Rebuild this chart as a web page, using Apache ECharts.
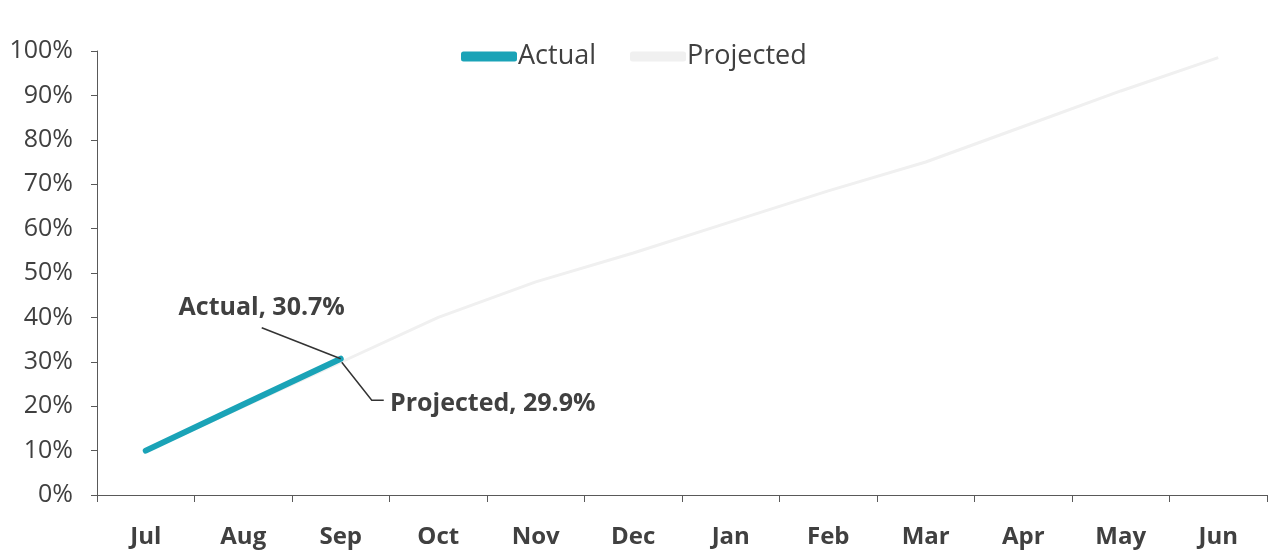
<!DOCTYPE html>
<html>
<head>
<meta charset="utf-8">
<script src="https://cdn.jsdelivr.net/npm/echarts@6/dist/echarts.min.js"></script>
<style>
  html, body { margin: 0; padding: 0; background: #fff; }
  #chart { width: 1272px; height: 554px; }
</style>
</head>
<body>
<div id="chart"></div>
<script>
// months of the fiscal year
const months = ['Jul', 'Aug', 'Sep', 'Oct', 'Nov', 'Dec', 'Jan', 'Feb', 'Mar', 'Apr', 'May', 'Jun']
// cumulative %
const actual = [10.0, 20.4, 30.7, null, null, null, null, null, null, null, null, null]
const projected = [9.8, 19.9, 29.9, 40.0, 48.0, 54.5, 61.5, 68.5, 75.0, 83.0, 91.0, 98.5]
const yTicks = [0, 10, 20, 30, 40, 50, 60, 70, 80, 90, 100]
const labelIdx = 2 // Sep, the last actual month

const textColor = '#404040'
const axisColor = '#595959'
const font = '"Open Sans", Lato, sans-serif'
const teal = '#1aa3b7'
const faint = '#f0f0f0'

const chart = echarts.init(document.getElementById('chart'))

// only the Sep point gets a label
const withLabel = (arr, idx) => arr.map((v, i) => i === idx ? { value: v, label: { show: true } } : v)

const dataLabel = {
  show: false,
  formatter: '{a}, {c}%',
  fontSize: 25,
  fontWeight: 'bold',
  color: textColor
}

chart.setOption({
  animation: false,
  textStyle: { fontFamily: font },
  legend: {
    top: 38,
    left: 456,
    itemWidth: 56,
    itemHeight: 10,
    itemGap: 34,
    textStyle: { fontSize: 27, color: textColor, fontFamily: font, padding: [0, 0, 0, -4] },
    data: [
      { name: 'Actual', icon: 'roundRect' },
      { name: 'Projected', icon: 'roundRect' }
    ]
  },
  grid: { left: 97, right: 5, top: 51, bottom: 59 },
  xAxis: {
    type: 'category',
    data: months,
    boundaryGap: true,
    axisLine: { lineStyle: { color: axisColor, width: 1 } },
    axisTick: { show: true, length: 7, lineStyle: { color: axisColor } },
    axisLabel: { fontSize: 24, fontWeight: 'bold', color: textColor, margin: 30 }
  },
  yAxis: {
    type: 'value',
    min: yTicks[0],
    max: yTicks[yTicks.length - 1],
    interval: 10,
    axisLine: { show: true, lineStyle: { color: axisColor, width: 1 } },
    axisTick: { show: true, length: 6, lineStyle: { color: axisColor } },
    splitLine: { show: false },
    axisLabel: { fontSize: 25, color: textColor, margin: 24, formatter: '{value}%' }
  },
  series: [
    {
      name: 'Projected',
      type: 'line',
      data: withLabel(projected, labelIdx),
      symbol: 'circle',
      symbolSize: 0,
      lineStyle: { color: faint, width: 3 },
      itemStyle: { color: faint },
      label: dataLabel,
      labelLayout: { dx: 152, dy: 59 },
      z: 2
    },
    {
      name: 'Actual',
      type: 'line',
      data: withLabel(actual, labelIdx),
      symbol: 'circle',
      symbolSize: 0,
      lineStyle: { color: teal, width: 6, cap: 'round' },
      itemStyle: { color: teal },
      label: dataLabel,
      labelLayout: { dx: -79, dy: -33 },
      z: 3
    }
  ]
})

// leader lines from the Sep points to their labels
const pA = chart.convertToPixel({ xAxisIndex: 0, yAxisIndex: 0 }, [labelIdx, actual[labelIdx]])
const pP = chart.convertToPixel({ xAxisIndex: 0, yAxisIndex: 0 }, [labelIdx, projected[labelIdx]])
const leader = { stroke: '#333', lineWidth: 1.5, fill: null }
chart.setOption({
  graphic: [
    {
      type: 'polyline',
      z: 10,
      shape: { points: [[pA[0], pA[1]], [pA[0] - 79, pA[1] - 31]] },
      style: leader
    },
    {
      type: 'polyline',
      z: 10,
      shape: { points: [[pP[0] + 1, pP[1]], [pP[0] + 31, pP[1] + 38], [pP[0] + 43, pP[1] + 38]] },
      style: leader
    }
  ]
})
</script>
</body>
</html>
